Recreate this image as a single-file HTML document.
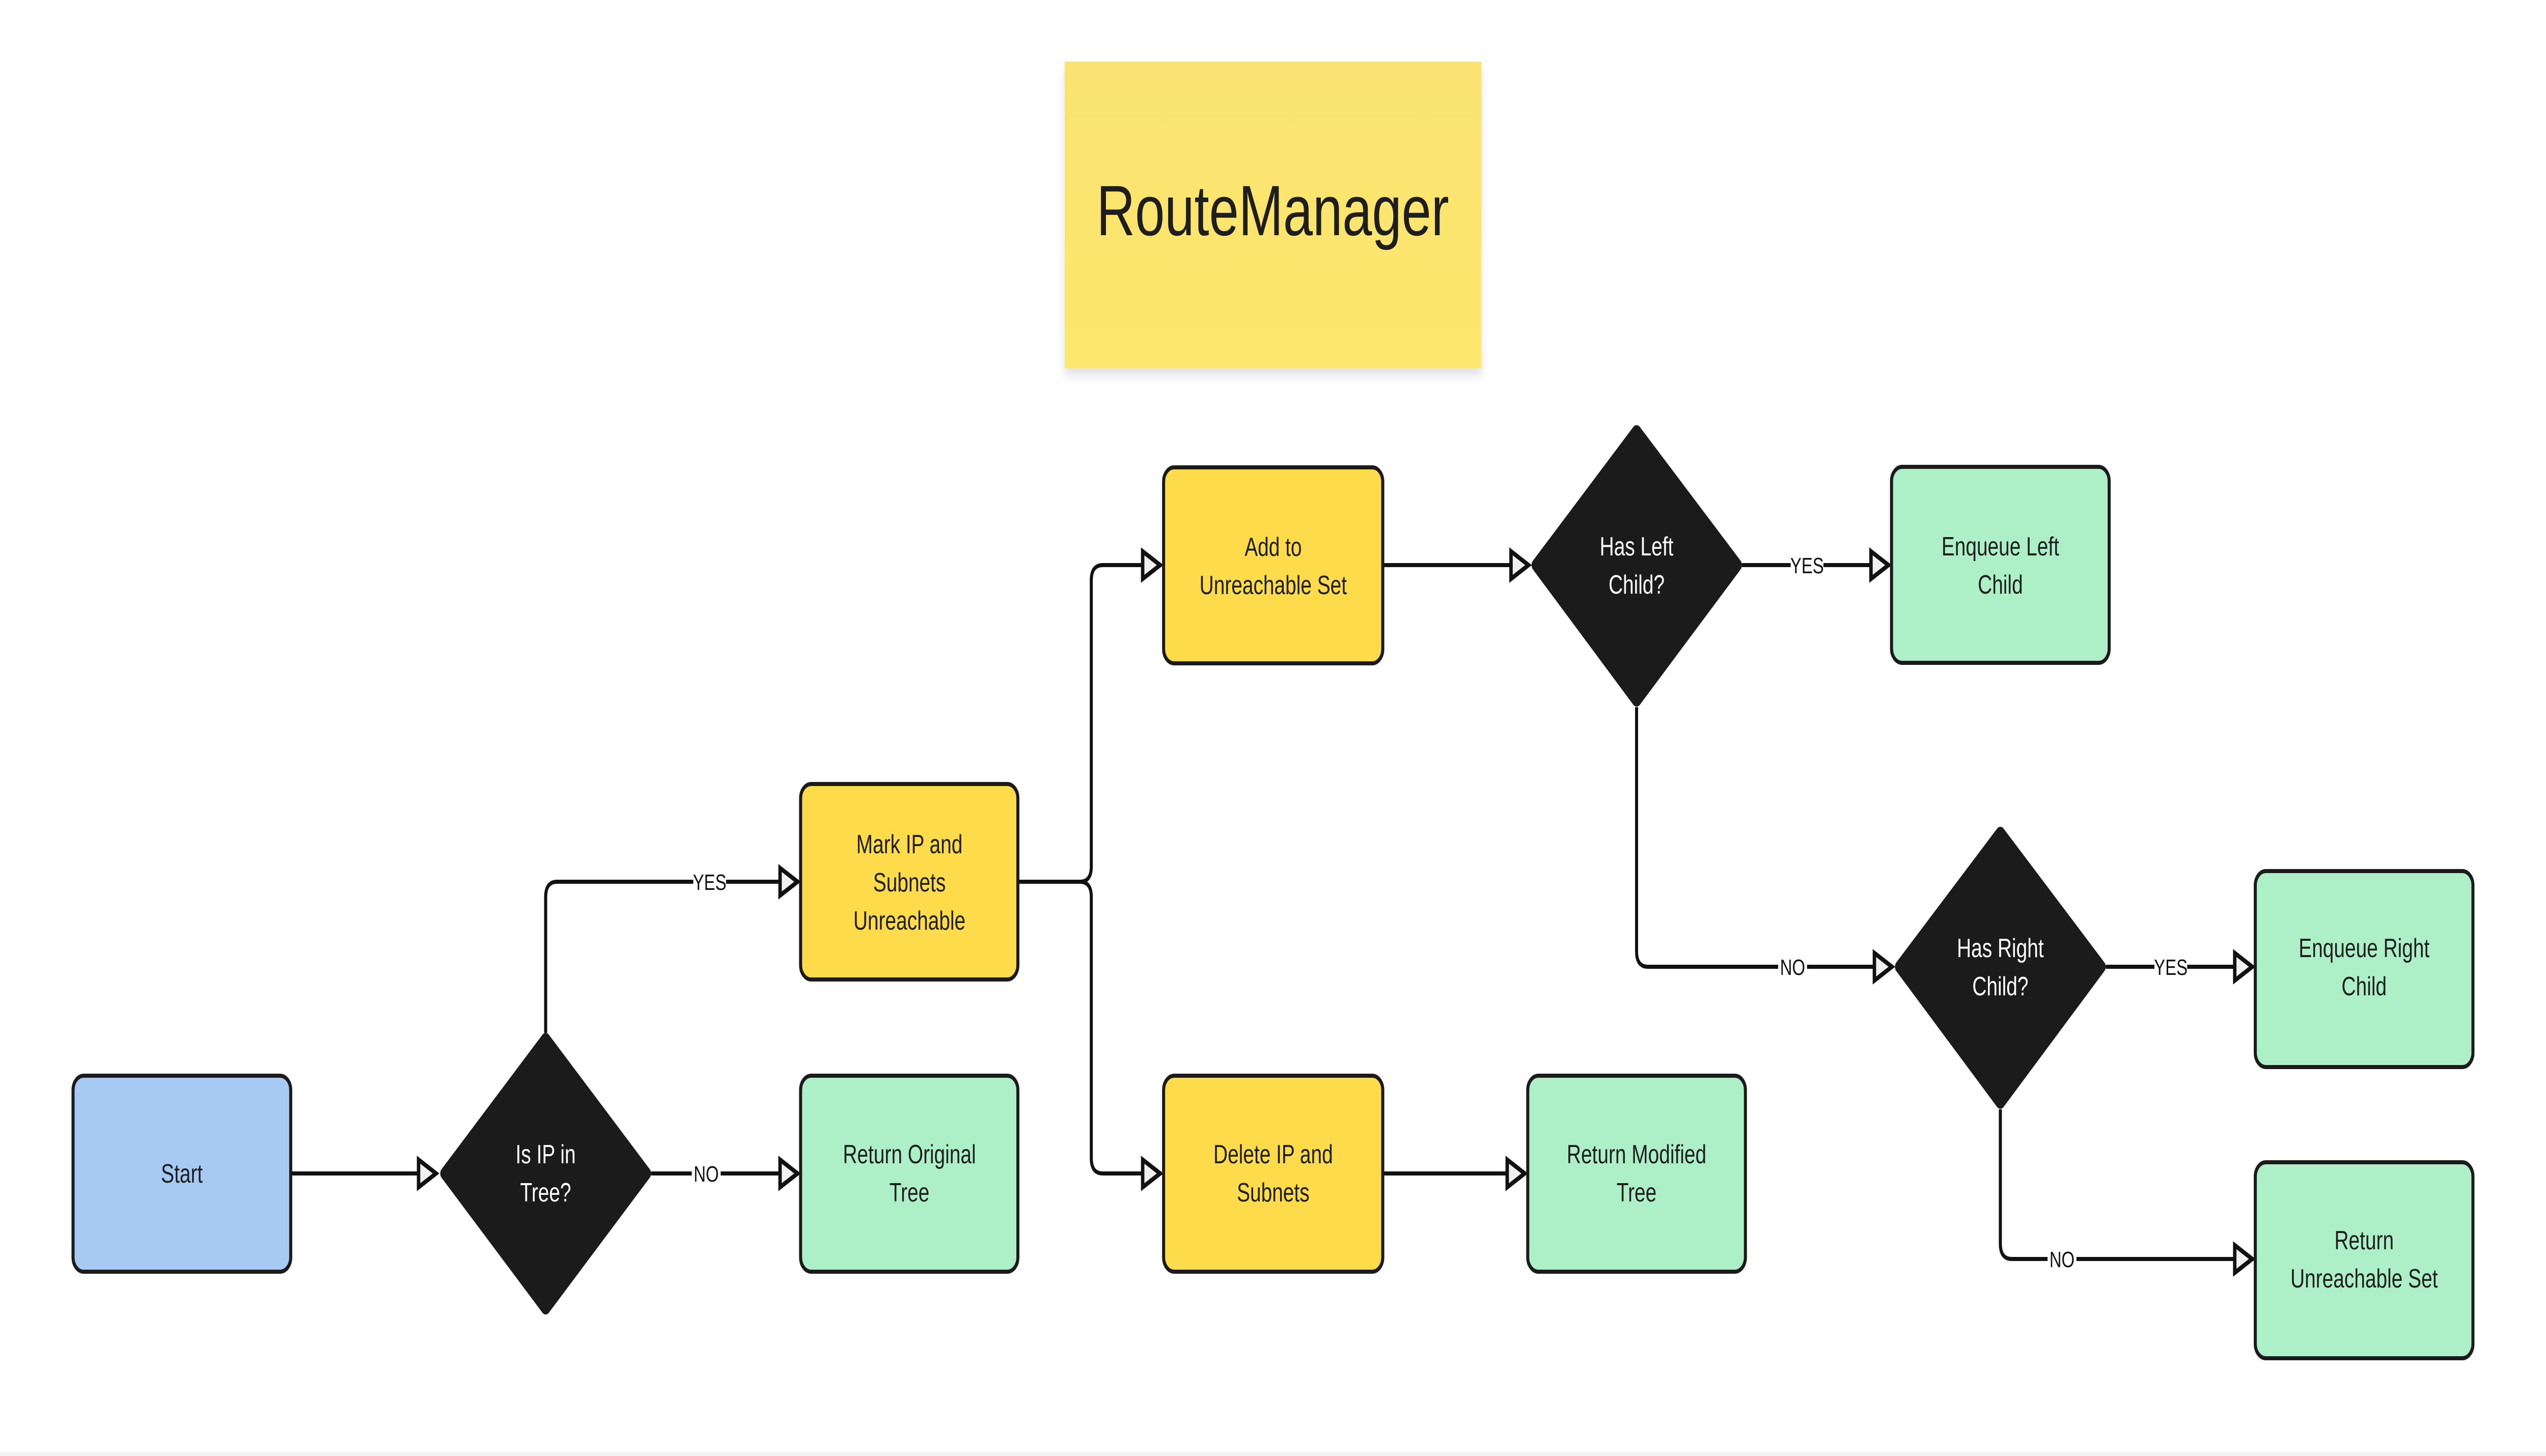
<!DOCTYPE html>
<html><head><meta charset="utf-8"><style>
html,body{margin:0;padding:0;background:#fff;width:100%;height:100%;overflow:hidden;}
svg{display:block;width:100vw;height:100vh;}
text{font-family:"Liberation Sans",sans-serif;}
</style></head><body>
<svg viewBox="0 0 6691 2860" preserveAspectRatio="none" xmlns="http://www.w3.org/2000/svg">
<defs>
<linearGradient id="st" x1="0" y1="0" x2="0" y2="1"><stop offset="0" stop-color="#fae36f"/><stop offset="1" stop-color="#fde76e"/></linearGradient>
<filter id="sh" x="-10%" y="-10%" width="120%" height="130%"><feDropShadow dx="0" dy="14" stdDeviation="10" flood-color="#000" flood-opacity="0.12"/></filter>
</defs>
<rect x="0" y="2852" width="6691" height="8" fill="#f3f3f3"/>
<rect x="2798" y="121" width="1095" height="602" fill="url(#st)" filter="url(#sh)"/>
<text x="3345" y="462" font-size="140" fill="#1e1e1e" text-anchor="middle">RouteManager</text>

<g fill="none" stroke="#111" stroke-width="8" stroke-linejoin="round">
<path d="M764 2305H1100"/>
<path d="M1434 2029V1762Q1434 1732 1464 1732H2050"/>
<path d="M1711 2305H2050"/>
<path d="M2675 1732H2838Q2868 1732 2868 1702V1140Q2868 1110 2898 1110H3003"/>
<path d="M2838 1732Q2868 1732 2868 1762V2275Q2868 2305 2898 2305H3003"/>
<path d="M3634 1110H3971"/>
<path d="M4578 1110H4917"/>
<path d="M4301 1389V1869Q4301 1899 4331 1899H4926"/>
<path d="M5534 1899H5873"/>
<path d="M5257 2179V2443Q5257 2473 5287 2473H5873"/>
<path d="M3634 2305H3961"/>
</g>
<g fill="#f0f0f0" stroke="#111" stroke-width="9" stroke-linejoin="miter">
<path d="M1100 2278L1146 2305L1100 2332Z"/>
<path d="M2050 1705L2096 1732L2050 1759Z"/>
<path d="M2050 2278L2096 2305L2050 2332Z"/>
<path d="M3003 1083L3049 1110L3003 1137Z"/>
<path d="M3003 2278L3049 2305L3003 2332Z"/>
<path d="M3971 1083L4017 1110L3971 1137Z"/>
<path d="M3961 2278L4007 2305L3961 2332Z"/>
<path d="M4917 1083L4963 1110L4917 1137Z"/>
<path d="M4926 1872L4972 1899L4926 1926Z"/>
<path d="M5873 1872L5919 1899L5873 1926Z"/>
<path d="M5873 2446L5919 2473L5873 2500Z"/>
</g>
<g font-size="44" fill="#111" text-anchor="middle">
<rect x="1822" y="1707" width="86" height="50" fill="#fff"/><text x="1865" y="1748">YES</text>
<rect x="1818" y="2280" width="76" height="50" fill="#fff"/><text x="1856" y="2321">NO</text>
<rect x="4706" y="1085" width="86" height="50" fill="#fff"/><text x="4749" y="1126">YES</text>
<rect x="4673" y="1874" width="76" height="50" fill="#fff"/><text x="4711" y="1915">NO</text>
<rect x="5662" y="1874" width="86" height="50" fill="#fff"/><text x="5705" y="1915">YES</text>
<rect x="5381" y="2448" width="76" height="50" fill="#fff"/><text x="5419" y="2489">NO</text>
</g>

<g stroke="#1b1b1b" stroke-width="8">
<rect x="192" y="2113" width="572" height="385" rx="28" fill="#a6caf4"/>
<rect x="2104" y="1540" width="571" height="384" rx="28" fill="#fedb4b"/>
<rect x="2104" y="2113" width="571" height="385" rx="28" fill="#adf0c7"/>
<rect x="3058" y="918" width="576" height="385" rx="28" fill="#fedb4b"/>
<rect x="3058" y="2113" width="576" height="385" rx="28" fill="#fedb4b"/>
<rect x="4015" y="2113" width="572" height="385" rx="28" fill="#adf0c7"/>
<rect x="4971" y="917" width="572" height="385" rx="28" fill="#adf0c7"/>
<rect x="5927" y="1711" width="572" height="385" rx="28" fill="#adf0c7"/>
<rect x="5927" y="2283" width="572" height="385" rx="28" fill="#adf0c7"/>
</g>
<g fill="#1b1b1b" stroke="#1b1b1b" stroke-width="24" stroke-linejoin="round">
<path d="M1434 2041L1699 2305L1434 2570L1169 2305Z"/>
<path d="M4301 847L4566 1110L4301 1376L4037 1110Z"/>
<path d="M5257 1636L5522 1899L5257 2166L4992 1899Z"/>
</g>
<g font-size="52" fill="#1e1e1e" text-anchor="middle">
<text x="478" y="2323">Start</text>
<text x="2390" y="1676">Mark IP and</text><text x="2390" y="1751">Subnets</text><text x="2390" y="1826">Unreachable</text>
<text x="2390" y="2285">Return Original</text><text x="2390" y="2360">Tree</text>
<text x="3346" y="1092">Add to</text><text x="3346" y="1167">Unreachable Set</text>
<text x="3346" y="2285">Delete IP and</text><text x="3346" y="2360">Subnets</text>
<text x="4301" y="2285">Return Modified</text><text x="4301" y="2360">Tree</text>
<text x="5257" y="1091">Enqueue Left</text><text x="5257" y="1166">Child</text>
<text x="6213" y="1880">Enqueue Right</text><text x="6213" y="1955">Child</text>
<text x="6213" y="2454">Return</text><text x="6213" y="2529">Unreachable Set</text>
</g>
<g font-size="52" fill="#fff" text-anchor="middle">
<text x="1434" y="2285">Is IP in</text><text x="1434" y="2360">Tree?</text>
<text x="4301" y="1091">Has Left</text><text x="4301" y="1166">Child?</text>
<text x="5257" y="1880">Has Right</text><text x="5257" y="1955">Child?</text>
</g>
</svg>
</body></html>
